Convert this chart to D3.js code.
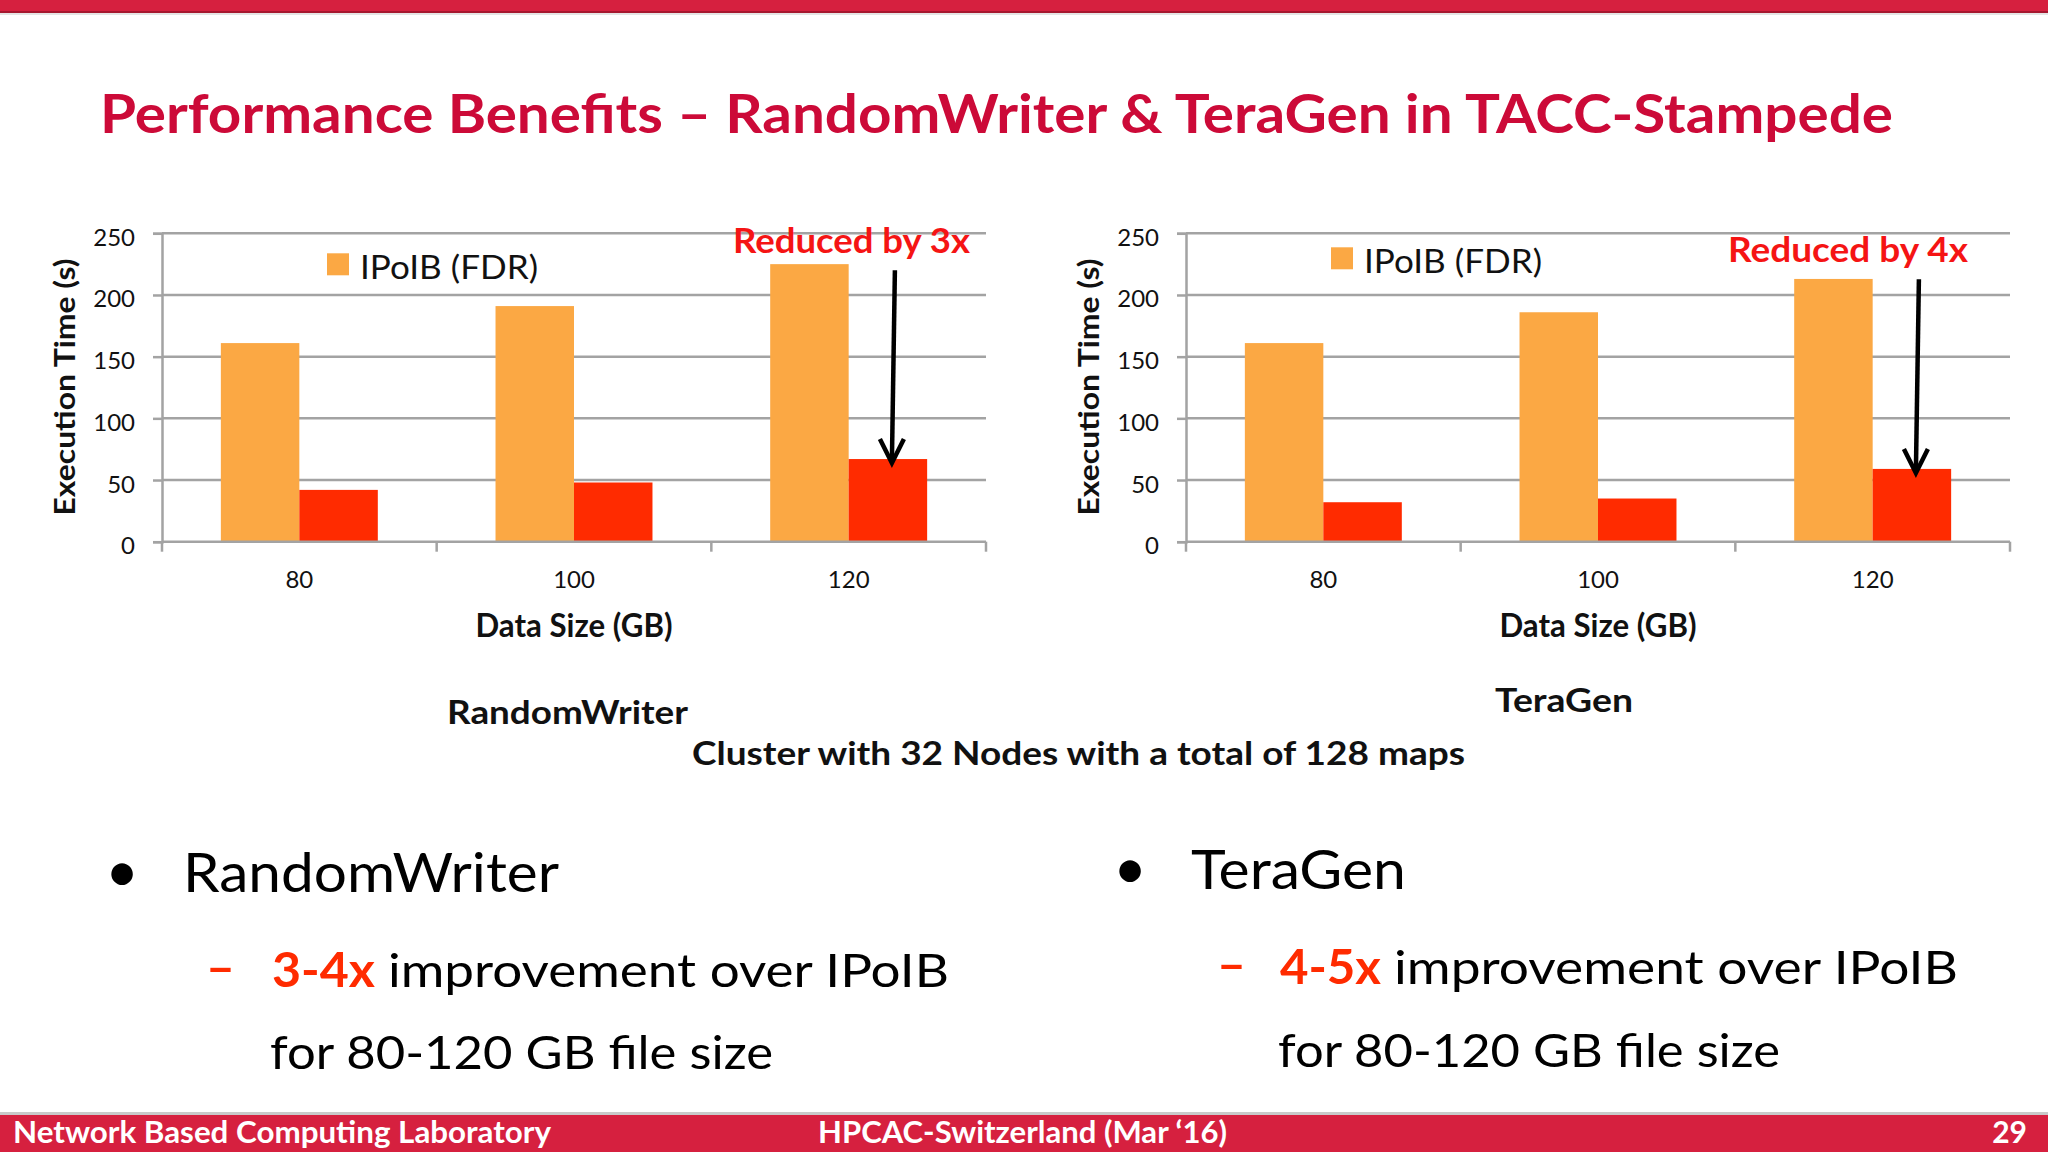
<!DOCTYPE html>
<html>
<head>
  <title>Performance Benefits</title>
  <script src="https://d3js.org/d3.v7.min.js"></script>
  <style>
    body { margin: 0; background: #fff; }
    svg { display: block; }
    text { font-family: Lato, "Open Sans", sans-serif; }
  </style>
</head>
<body>
  <script>
    // data
    var categories = ['80', '100', '120'];
    var seriesNames = ['IPoIB (FDR)', 'RDMA'];
    var rwIPoIB = [161, 191, 225];
    var rwRDMA = [42, 48, 67];
    var tgIPoIB = [161, 186, 213];
    var tgRDMA = [32, 35, 59];
    var yTicks = [0, 50, 100, 150, 200, 250];

    var width = 2048,
        height = 1152;

    var orange = '#FBA844',
        red = '#FF2B00',
        grid = '#A3A3A3',
        slideRed = '#D6203F',
        titleRed = '#CC0A38';

    var svg = d3.select('body')
      .append('svg')
      .attr('width', width)
      .attr('height', height);

    // squeeze/stretch a text to a measured width
    function fit(sel, w) {
      return sel.attr('textLength', w).attr('lengthAdjust', 'spacingAndGlyphs');
    }

    // slide frame
    svg.append('rect').attr('x', 0).attr('y', 0).attr('width', width).attr('height', 13).attr('fill', slideRed);
    svg.append('rect').attr('x', 0).attr('y', 11).attr('width', width).attr('height', 2).attr('fill', '#A5172F');
    svg.append('rect').attr('x', 0).attr('y', 13).attr('width', width).attr('height', 2).attr('fill', '#E4E4E4');
    svg.append('rect').attr('x', 0).attr('y', 1112).attr('width', width).attr('height', 3).attr('fill', '#C9C9C9');
    svg.append('rect').attr('x', 0).attr('y', 1115).attr('width', width).attr('height', 37).attr('fill', slideRed);

    fit(svg.append('text')
      .attr('x', 100).attr('y', 133)
      .attr('font-size', 53).attr('font-weight', 'bold')
      .attr('fill', titleRed)
      .text('Performance Benefits \u2013 RandomWriter & TeraGen in TACC-Stampede'), 1793);

    function drawChart(cfg) {
      var w = 824, h = 308.4;
      var g = svg.append('g').attr('transform', 'translate(' + cfg.x + ',' + cfg.y + ')');

      var x = d3.scaleBand().domain(categories).range([0, w]).paddingInner(0).paddingOuter(0);
      var x1 = d3.scaleBand().domain(seriesNames).range([0, x.bandwidth()]).paddingInner(0).paddingOuter(0.75);
      var y = d3.scaleLinear().domain([0, 250]).range([h, 0]);

      // gridlines
      g.append('g').selectAll('line')
        .data(yTicks.slice(1))
        .enter().append('line')
        .attr('x1', 0).attr('x2', w)
        .attr('y1', function(d) { return y(d); })
        .attr('y2', function(d) { return y(d); })
        .attr('stroke', grid).attr('stroke-width', 2.5);

      // bars
      var rows = categories.map(function(c, i) {
        return { cat: c, vals: [cfg.a[i], cfg.b[i]] };
      });
      g.append('g').selectAll('g')
        .data(rows)
        .enter().append('g')
        .attr('transform', function(d) { return 'translate(' + x(d.cat) + ',0)'; })
        .selectAll('rect')
        .data(function(d) { return d.vals.map(function(v, j) { return { name: seriesNames[j], v: v }; }); })
        .enter().append('rect')
        .attr('x', function(d) { return x1(d.name); })
        .attr('width', x1.bandwidth())
        .attr('y', function(d) { return y(d.v); })
        .attr('height', function(d) { return h - y(d.v); })
        .attr('fill', function(d, j) { return j === 0 ? orange : red; });

      // y axis
      var ya = g.append('g')
        .call(d3.axisLeft(y).tickValues(yTicks).tickSize(9).tickPadding(18));
      ya.select('.domain').attr('stroke', grid).attr('stroke-width', 2.5);
      ya.selectAll('.tick line').attr('stroke', grid).attr('stroke-width', 2.5);
      ya.selectAll('.tick text')
        .attr('font-family', 'Lato, sans-serif').attr('font-size', 24)
        .attr('fill', '#111').attr('dy', '0.5em');

      // x axis: labels at centres, ticks at the boundaries
      var xa = g.append('g')
        .attr('transform', 'translate(0,' + h + ')')
        .call(d3.axisBottom(x).tickSize(0).tickPadding(29));
      xa.select('.domain').remove();
      xa.selectAll('.tick text')
        .attr('font-family', 'Lato, sans-serif').attr('font-size', 24).attr('fill', '#111');
      g.append('line').attr('x1', 0).attr('x2', w).attr('y1', h).attr('y2', h)
        .attr('stroke', grid).attr('stroke-width', 2.5);
      var bounds = d3.range(categories.length + 1).map(function(i) { return i * x.step(); });
      g.append('g').selectAll('line')
        .data(bounds)
        .enter().append('line')
        .attr('x1', function(d) { return d; }).attr('x2', function(d) { return d; })
        .attr('y1', h).attr('y2', h + 10)
        .attr('stroke', grid).attr('stroke-width', 2.5);

      // axis titles
      fit(g.append('text')
        .attr('transform', 'translate(-87,' + (h / 2 + 128) + ') rotate(-90)')
        .attr('x', 0).attr('y', 0)
        .attr('font-family', '"DejaVu Sans", sans-serif')
        .attr('font-size', 28).attr('font-weight', 'bold')
        .attr('fill', '#111')
        .text('Execution Time (s)'), 257);

      fit(g.append('text')
        .attr('x', w / 2).attr('y', h + 95)
        .attr('text-anchor', 'middle')
        .attr('font-size', 33).attr('font-weight', 'bold').attr('fill', '#111')
        .text('Data Size (GB)'), 197);

      // legend (only the first series is shown on the slide)
      g.append('rect')
        .attr('x', cfg.lx).attr('y', cfg.ly)
        .attr('width', 22).attr('height', 22)
        .attr('fill', orange);
      fit(g.append('text')
        .attr('x', cfg.lx + 33).attr('y', cfg.ly + 26)
        .attr('font-size', 32).attr('fill', '#111')
        .text(seriesNames[0]), 178);

      // annotation + arrow onto the last red bar
      fit(g.append('text')
        .attr('x', cfg.nx).attr('y', cfg.ny)
        .attr('font-size', 35).attr('font-weight', 'bold').attr('fill', '#F51414')
        .text(cfg.note), cfg.nw);

      var last = categories[categories.length - 1];
      var ax = x(last) + x1(seriesNames[1]) + x1.bandwidth() / 2 + 4;
      var tip = y(cfg.b[cfg.b.length - 1]) + 4;
      g.append('line')
        .attr('x1', ax + cfg.slant).attr('y1', cfg.ay)
        .attr('x2', ax).attr('y2', tip - 2)
        .attr('stroke', '#000').attr('stroke-width', 4.5);
      g.append('polyline')
        .attr('points', [[ax - 12, tip - 24], [ax, tip], [ax + 12, tip - 24]].map(function(p) { return p.join(','); }).join(' '))
        .attr('fill', 'none').attr('stroke', '#000').attr('stroke-width', 4.5);
    }

    drawChart({ x: 162, y: 233.3, a: rwIPoIB, b: rwRDMA,
                lx: 165, ly: 20, note: 'Reduced by 3x', nx: 571, ny: 20, nw: 237,
                ay: 37, slant: 3 });
    drawChart({ x: 1186, y: 233.3, a: tgIPoIB, b: tgRDMA,
                lx: 145, ly: 14, note: 'Reduced by 4x', nx: 542, ny: 29, nw: 240,
                ay: 46, slant: 3 });

    // captions under the charts
    fit(svg.append('text').attr('x', 447).attr('y', 724)
      .attr('font-size', 33).attr('font-weight', 'bold').attr('fill', '#111')
      .text('RandomWriter'), 241);
    fit(svg.append('text').attr('x', 1495).attr('y', 712)
      .attr('font-size', 33).attr('font-weight', 'bold').attr('fill', '#111')
      .text('TeraGen'), 138);
    fit(svg.append('text').attr('x', 692).attr('y', 765)
      .attr('font-size', 33).attr('font-weight', 'bold').attr('fill', '#111')
      .text('Cluster with 32 Nodes with a total of 128 maps'), 773);

    // bullet points
    var bullets = [
      { bx: 122, tx: 183, ty: 892, label: 'RandomWriter', lw: 376,
        dx: 206, hx: 272, hw: 103, hi: '3-4x', rx: 388, rw: 561, sy: 987, fy: 1069, fw: 503 },
      { bx: 1130, tx: 1191, ty: 889, label: 'TeraGen', lw: 215,
        dx: 1217, hx: 1280, hw: 101, hi: '4-5x', rx: 1394, rw: 564, sy: 984, fy: 1067, fw: 502 }
    ];
    bullets.forEach(function(b) {
      svg.append('text').attr('x', b.bx).attr('y', b.ty)
        .attr('text-anchor', 'middle')
        .attr('font-family', '"Liberation Sans", sans-serif')
        .attr('font-size', 58).attr('fill', '#000').text('\u2022');
      fit(svg.append('text').attr('x', b.tx).attr('y', b.ty)
        .attr('font-size', 54).attr('fill', '#000').text(b.label), b.lw);
      fit(svg.append('text').attr('x', b.dx).attr('y', b.sy - 3)
        .attr('font-size', 47).attr('font-weight', 'bold').attr('fill', red).text('\u2013'), 29);
      fit(svg.append('text').attr('x', b.hx).attr('y', b.sy)
        .attr('font-size', 47).attr('font-weight', 'bold').attr('fill', red).text(b.hi), b.hw);
      fit(svg.append('text').attr('x', b.rx).attr('y', b.sy)
        .attr('font-size', 47).attr('fill', '#000').text('improvement over IPoIB'), b.rw);
      fit(svg.append('text').attr('x', b.hx - 2).attr('y', b.fy)
        .attr('font-size', 47).attr('fill', '#000').text('for 80-120 GB file size'), b.fw);
    });

    // footer
    fit(svg.append('text').attr('x', 13).attr('y', 1143)
      .attr('font-size', 30).attr('font-weight', 'bold').attr('fill', '#fff')
      .text('Network Based Computing Laboratory'), 538);
    fit(svg.append('text').attr('x', 818).attr('y', 1143)
      .attr('font-size', 30).attr('font-weight', 'bold').attr('fill', '#fff')
      .text('HPCAC-Switzerland (Mar \u201816)'), 409);
    svg.append('text').attr('x', 2027).attr('y', 1143)
      .attr('text-anchor', 'end')
      .attr('font-size', 30).attr('font-weight', 'bold').attr('fill', '#fff')
      .text('29');
  </script>
</body>
</html>
